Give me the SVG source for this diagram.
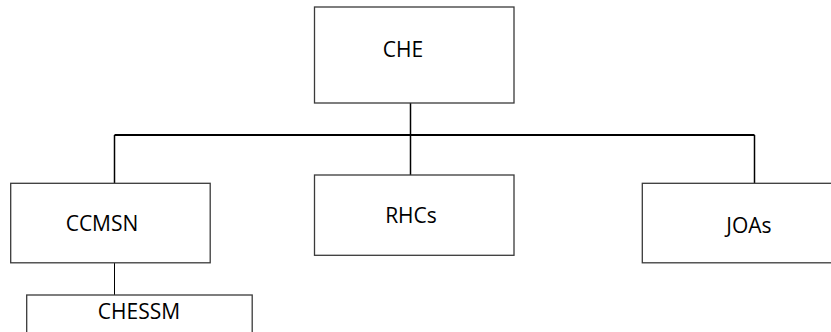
<svg xmlns="http://www.w3.org/2000/svg" width="831" height="332" viewBox="0 0 831 332">
<style>
.box{fill:#fff;stroke:#3a3a3a;stroke-width:1.3}
.lbl{font-family:"Open Sans","Noto Sans",sans-serif;font-size:21px;fill:#000;text-anchor:middle}
.con{stroke:#000;fill:none;stroke-width:1.5}
</style>
<rect width="831" height="332" fill="#fff"/>
<g id="connectors">
<line class="con" x1="410.5" y1="103" x2="410.5" y2="175"/>
<line class="con" x1="114.5" y1="135" x2="754.5" y2="135" style="stroke-width:2"/>
<line class="con" x1="114.5" y1="135" x2="114.5" y2="183"/>
<line class="con" x1="754.5" y1="135" x2="754.5" y2="183"/>
<line class="con" x1="114.5" y1="263" x2="114.5" y2="295" style="stroke-width:1"/>
</g>
<g id="che"><rect class="box" x="314.5" y="7" width="199.5" height="96"/><text class="lbl" x="403" y="57.3">CHE</text></g>
<g id="ccmsn"><rect class="box" x="10.7" y="183.3" width="199.5" height="79.5"/><text class="lbl" x="102" y="230.7">CCMSN</text></g>
<g id="rhcs"><rect class="box" x="314.5" y="175" width="199.5" height="80.3"/><text class="lbl" x="411" y="222.7">RHCs</text></g>
<g id="joas"><rect class="box" x="642.3" y="183.3" width="200" height="79.5"/><text class="lbl" x="749" y="232.7">JOAs</text></g>
<g id="chessm"><rect class="box" x="26.7" y="295" width="225.5" height="50"/><text class="lbl" x="139" y="319.3">CHESSM</text></g>
</svg>
